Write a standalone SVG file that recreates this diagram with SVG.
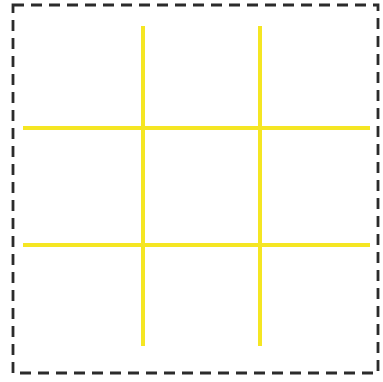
<svg xmlns="http://www.w3.org/2000/svg" width="383" height="382" viewBox="0 0 383 382">
<style>
.frame{fill:none;stroke:#2b2b2b;stroke-width:2.8;stroke-dasharray:11 7}
.grid line{stroke:#f5e623;stroke-width:4;stroke-linecap:butt}
</style>
<rect width="383" height="382" fill="#ffffff"/>
<g id="frame"><rect class="frame" x="13" y="5" width="365" height="368"/></g>
<g id="connectors" class="grid">
<line x1="143" y1="26" x2="143" y2="346"/>
<line x1="260" y1="26" x2="260" y2="346"/>
<line x1="23" y1="128" x2="370" y2="128"/>
<line x1="23" y1="245" x2="370" y2="245"/>
</g>
</svg>
